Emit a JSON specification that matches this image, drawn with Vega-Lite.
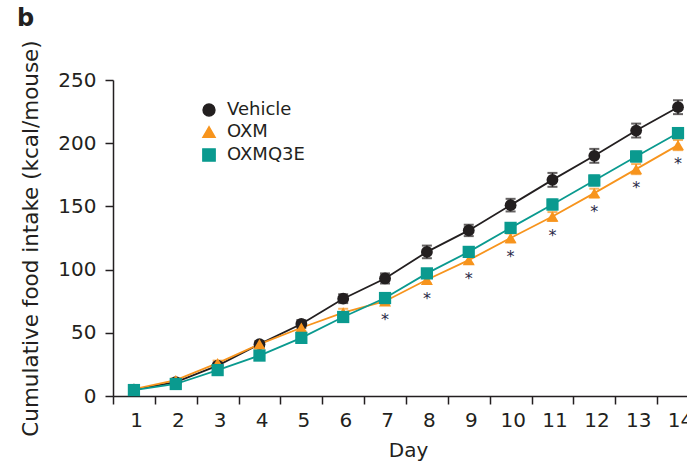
{
  "$schema": "https://vega.github.io/schema/vega-lite/v6.json",
  "autosize": {"type": "none"},
  "padding": {"left": 113, "top": 80, "right": 0, "bottom": 69},
  "width": 574,
  "height": 316,
  "background": "white",
  "config": {
    "font": "DejaVu Sans",
    "view": {"stroke": null},
    "axis": {"grid": false, "domainColor": "#231f20", "tickColor": "#231f20", "labelColor": "#231f20", "titleColor": "#231f20", "domainWidth": 1.5, "tickWidth": 1.5, "labelFontSize": 20, "titleFontSize": 20, "titleFontWeight": "normal", "labelFont": "DejaVu Sans", "titleFont": "DejaVu Sans"},
    "legend": {"labelFont": "DejaVu Sans", "labelFontSize": 18, "labelColor": "#231f20", "symbolOpacity": 1}
  },
  "title": {"text": "b", "anchor": "start", "frame": "group", "dx": -96, "offset": 9, "fontSize": 24, "fontWeight": "bold", "color": "#231f20", "font": "DejaVu Sans"},
  "data": {
    "values": [
      {"day": 1, "group": "Vehicle", "mean": 5, "err": 1, "sig": false},
      {"day": 2, "group": "Vehicle", "mean": 11, "err": 1.5, "sig": false},
      {"day": 3, "group": "Vehicle", "mean": 24, "err": 2, "sig": false},
      {"day": 4, "group": "Vehicle", "mean": 41, "err": 2.5, "sig": false},
      {"day": 5, "group": "Vehicle", "mean": 57, "err": 3, "sig": false},
      {"day": 6, "group": "Vehicle", "mean": 77, "err": 3.5, "sig": false},
      {"day": 7, "group": "Vehicle", "mean": 93, "err": 4, "sig": false},
      {"day": 8, "group": "Vehicle", "mean": 114, "err": 5, "sig": false},
      {"day": 9, "group": "Vehicle", "mean": 131, "err": 4.5, "sig": false},
      {"day": 10, "group": "Vehicle", "mean": 151, "err": 5, "sig": false},
      {"day": 11, "group": "Vehicle", "mean": 171, "err": 5.5, "sig": false},
      {"day": 12, "group": "Vehicle", "mean": 190, "err": 5.5, "sig": false},
      {"day": 13, "group": "Vehicle", "mean": 210, "err": 5.5, "sig": false},
      {"day": 14, "group": "Vehicle", "mean": 228.5, "err": 5.5, "sig": false},
      {"day": 1, "group": "OXM", "mean": 5.5, "err": 1, "sig": false},
      {"day": 2, "group": "OXM", "mean": 12.5, "err": 1.5, "sig": false},
      {"day": 3, "group": "OXM", "mean": 26, "err": 2, "sig": false},
      {"day": 4, "group": "OXM", "mean": 41, "err": 2, "sig": false},
      {"day": 5, "group": "OXM", "mean": 54, "err": 2.5, "sig": false},
      {"day": 6, "group": "OXM", "mean": 66, "err": 3, "sig": false},
      {"day": 7, "group": "OXM", "mean": 75, "err": 3, "sig": true},
      {"day": 8, "group": "OXM", "mean": 92, "err": 3, "sig": true},
      {"day": 9, "group": "OXM", "mean": 107.5, "err": 3, "sig": true},
      {"day": 10, "group": "OXM", "mean": 125, "err": 3.5, "sig": true},
      {"day": 11, "group": "OXM", "mean": 142, "err": 3.5, "sig": true},
      {"day": 12, "group": "OXM", "mean": 160.5, "err": 3.5, "sig": true},
      {"day": 13, "group": "OXM", "mean": 179.5, "err": 4, "sig": true},
      {"day": 14, "group": "OXM", "mean": 198.5, "err": 4, "sig": true},
      {"day": 1, "group": "OXMQ3E", "mean": 4.7, "err": 1, "sig": false},
      {"day": 2, "group": "OXMQ3E", "mean": 9.5, "err": 1.5, "sig": false},
      {"day": 3, "group": "OXMQ3E", "mean": 20.5, "err": 2, "sig": false},
      {"day": 4, "group": "OXMQ3E", "mean": 32, "err": 2, "sig": false},
      {"day": 5, "group": "OXMQ3E", "mean": 46, "err": 2.5, "sig": false},
      {"day": 6, "group": "OXMQ3E", "mean": 62.5, "err": 3, "sig": false},
      {"day": 7, "group": "OXMQ3E", "mean": 77.5, "err": 3, "sig": false},
      {"day": 8, "group": "OXMQ3E", "mean": 97, "err": 3.5, "sig": false},
      {"day": 9, "group": "OXMQ3E", "mean": 114, "err": 3.5, "sig": false},
      {"day": 10, "group": "OXMQ3E", "mean": 133, "err": 3.5, "sig": false},
      {"day": 11, "group": "OXMQ3E", "mean": 151.5, "err": 4, "sig": false},
      {"day": 12, "group": "OXMQ3E", "mean": 170.5, "err": 4, "sig": false},
      {"day": 13, "group": "OXMQ3E", "mean": 189.5, "err": 4, "sig": false},
      {"day": 14, "group": "OXMQ3E", "mean": 208, "err": 4, "sig": false}
    ]
  },
  "encoding": {
    "x": {
      "field": "day", "type": "quantitative",
      "scale": {"domain": [0.5, 14.215], "nice": false, "zero": false},
      "axis": {
        "title": "Day", "values": [0.5, 1.5, 2.5, 3.5, 4.5, 5.5, 6.5, 7.5, 8.5, 9.5, 10.5, 11.5, 12.5, 13.5],
        "labelExpr": "format(datum.value + 0.5, 'd')", "labelOffset": 23, "labelFlush": false, "labelOverlap": false,
        "tickSize": 8, "labelPadding": 6, "titlePadding": 10, "titleX": 295
      }
    },
    "y": {
      "field": "mean", "type": "quantitative",
      "scale": {"domain": [0, 250], "nice": false},
      "axis": {"title": "Cumulative food intake (kcal/mouse)", "values": [0, 50, 100, 150, 200, 250], "tickSize": 8, "labelPadding": 9, "titlePadding": 15, "titleFontSize": 21.5}
    }
  },
  "layer": [
    {
      "mark": {"type": "errorbar", "ticks": {"size": 10, "thickness": 2}, "rule": {"strokeWidth": 1.5}},
      "encoding": {
        "yError": {"field": "err"},
        "color": {"field": "group", "type": "nominal", "scale": {"domain": ["Vehicle", "OXM", "OXMQ3E"], "range": ["#231f20", "#f7941d", "#0a9a8f"]},
          "legend": {"title": null, "orient": "none", "legendX": 87, "legendY": 21, "padding": 0, "rowPadding": 4, "symbolSize": 130, "labelOffset": 9, "symbolOpacity": 1}},
        "detail": {"field": "group"}
      }
    },
    {
      "mark": {"type": "line", "strokeWidth": 1.8},
      "encoding": {
        "color": {"field": "group", "type": "nominal"},
        "detail": {"field": "group"}
      }
    },
    {
      "mark": {"type": "point", "filled": true, "opacity": 1},
      "encoding": {
        "color": {"field": "group", "type": "nominal"},
        "shape": {"field": "group", "type": "nominal", "scale": {"domain": ["Vehicle", "OXM", "OXMQ3E"], "range": ["circle", "triangle-up", "square"]},
          "legend": {"title": null, "orient": "none", "legendX": 87, "legendY": 21, "padding": 0, "rowPadding": 4, "symbolSize": 130, "labelOffset": 9, "symbolOpacity": 1}},
        "size": {"field": "group", "type": "nominal", "scale": {"domain": ["Vehicle", "OXM", "OXMQ3E"], "range": [140, 150, 180]}, "legend": null}
      }
    },
    {
      "transform": [{"filter": "datum.sig"}],
      "mark": {"type": "text", "text": "*", "fontSize": 16, "color": "#2a2a48", "baseline": "middle", "dy": 19},
      "encoding": {}
    }
  ]
}
